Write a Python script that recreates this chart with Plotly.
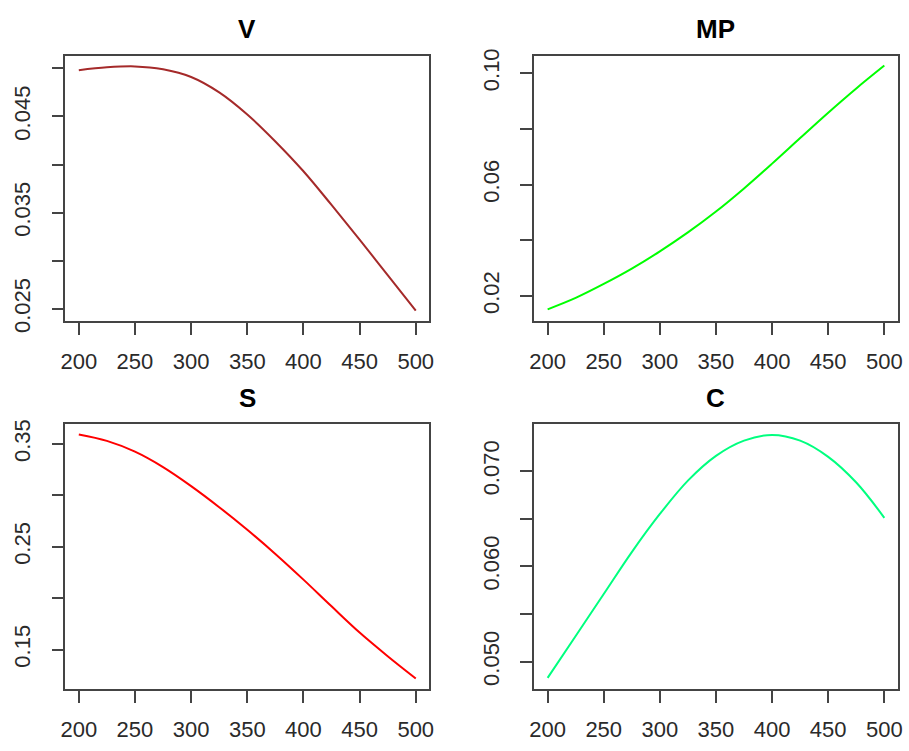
import plotly.graph_objects as go

# Grid of x values shared by all four panels
x_vals = [200, 225, 250, 275, 300, 325, 350, 375, 400, 425, 450, 475, 500]

# Series values
v_vals = [0.0498, 0.0501, 0.0502, 0.0499, 0.0491, 0.0475, 0.0452,
          0.0424, 0.0393, 0.0358, 0.0322, 0.0285, 0.0248]
mp_vals = [0.0152, 0.0193, 0.0243, 0.0298, 0.0360, 0.0428, 0.0503,
           0.0586, 0.0675, 0.0767, 0.0858, 0.0945, 0.1027]
s_vals = [0.3592, 0.3530, 0.3425, 0.3275, 0.3090, 0.2885, 0.2665,
          0.2430, 0.2180, 0.1920, 0.1665, 0.1435, 0.1218]
c_vals = [0.0483, 0.0527, 0.0571, 0.0615, 0.0655, 0.0690, 0.0716,
          0.0732, 0.0738, 0.0732, 0.0715, 0.0688, 0.0651]

# Panel titles
titles = ["V", "MP", "S", "C"]

# Tick positions and labels
x_ticks = [200, 250, 300, 350, 400, 450, 500]
x_tick_text = ["200", "250", "300", "350", "400", "450", "500"]

v_ticks = [0.025, 0.030, 0.035, 0.040, 0.045, 0.050]
v_tick_text = ["0.025", "", "0.035", "", "0.045", ""]
mp_ticks = [0.02, 0.04, 0.06, 0.08, 0.10]
mp_tick_text = ["0.02", "", "0.06", "", "0.10"]
s_ticks = [0.15, 0.20, 0.25, 0.30, 0.35]
s_tick_text = ["0.15", "", "0.25", "", "0.35"]
c_ticks = [0.050, 0.055, 0.060, 0.065, 0.070]
c_tick_text = ["0.050", "", "0.060", "", "0.070"]

colors = ["#A52A2A", "#00FF00", "#FF0000", "#00FF7F"]

FONT = "Liberation Sans, Arial, sans-serif"
AXIS_COLOR = "#444444"

series = [v_vals, mp_vals, s_vals, c_vals]
y_tick_sets = [(v_ticks, v_tick_text), (mp_ticks, mp_tick_text),
               (s_ticks, s_tick_text), (c_ticks, c_tick_text)]
y_ranges = [[0.0237, 0.0513], [0.0109, 0.1062], [0.1113, 0.3690], [0.0471, 0.0749]]

x_domains = [[0.0671, 0.4719], [0.5886, 0.9931], [0.0671, 0.4719], [0.5886, 0.9931]]
y_domains = [[0.5712, 0.9334], [0.5712, 0.9334], [0.0692, 0.4305], [0.0692, 0.4305]]

fig = go.Figure()

layout = dict(
    width=909, height=751,
    margin=dict(l=0, r=0, t=0, b=0),
    paper_bgcolor="white", plot_bgcolor="white",
    showlegend=False,
    annotations=[],
)

common = dict(
    showline=True, mirror=True, linecolor=AXIS_COLOR, linewidth=1.5,
    ticks="outside", ticklen=12, tickwidth=1.5, tickcolor=AXIS_COLOR,
    showgrid=False, zeroline=False,
    tickfont=dict(family=FONT, size=22, color="#2a2a2a"),
)

for i in range(4):
    n = "" if i == 0 else str(i + 1)
    fig.add_trace(go.Scatter(
        x=x_vals, y=series[i], mode="lines",
        line=dict(color=colors[i], width=2, shape="spline", smoothing=1.0),
        xaxis="x" + n, yaxis="y" + n, hoverinfo="skip",
    ))
    layout["xaxis" + n] = dict(
        common, domain=x_domains[i], anchor="y" + n,
        range=[188, 512], tickmode="array",
        tickvals=x_ticks, ticktext=x_tick_text,
        ticklabelstandoff=8,
    )
    tv, tt = y_tick_sets[i]
    layout["yaxis" + n] = dict(
        common, domain=y_domains[i], anchor="x" + n,
        range=y_ranges[i], tickmode="array",
        tickvals=tv, ticktext=tt, tickangle=-90,
        ticklabelstandoff=13,
    )
    layout["annotations"].append(dict(
        text="<b>" + titles[i] + "</b>",
        xref="paper", yref="paper",
        x=(x_domains[i][0] + x_domains[i][1]) / 2,
        y=y_domains[i][1] + 0.036,
        xanchor="center", yanchor="middle", showarrow=False,
        font=dict(family=FONT, size=26, color="black"),
    ))

fig.update_layout(**layout)
fig.write_html("out.html")
